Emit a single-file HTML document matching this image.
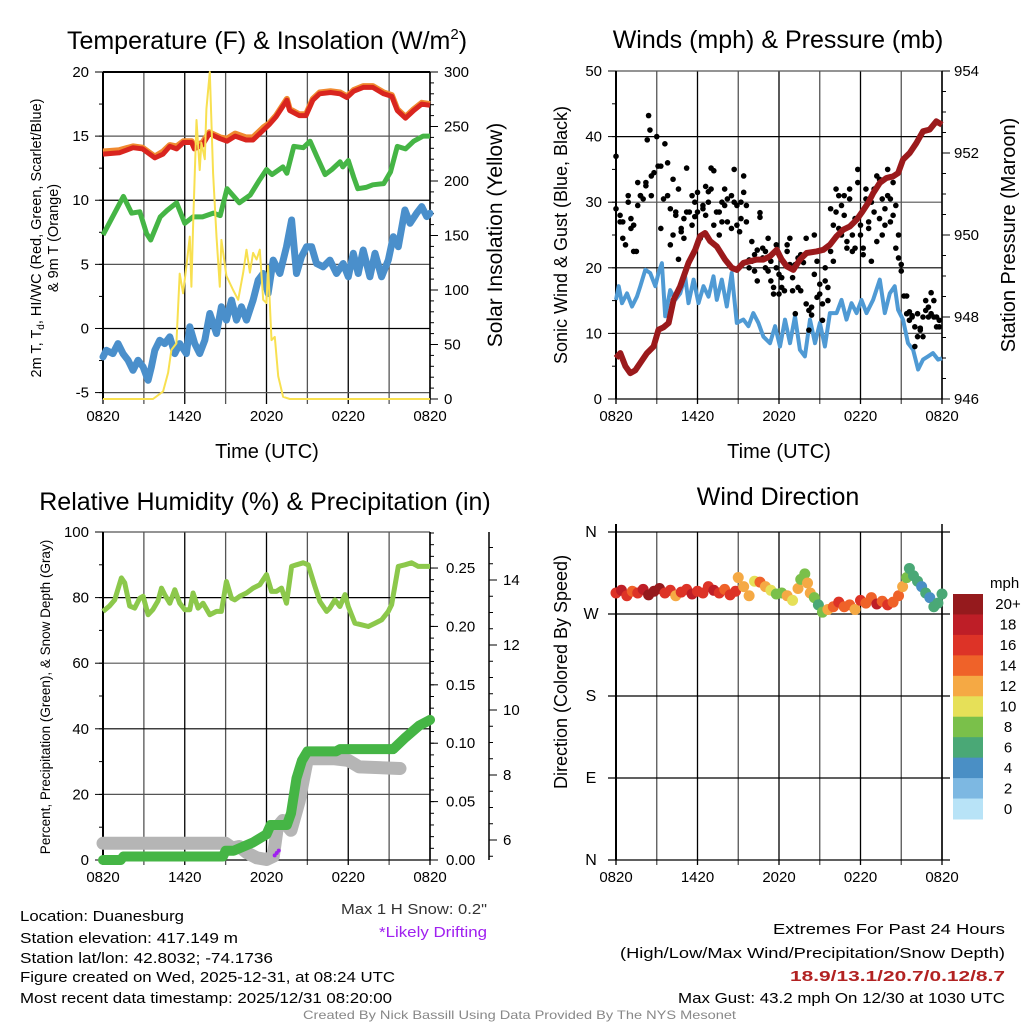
<!DOCTYPE html>
<html><head><meta charset="utf-8"><style>
body{margin:0;background:#fff}
svg{display:block;font-family:"Liberation Sans",sans-serif}
</style></head><body>
<svg id="chart" width="1024" height="1024" viewBox="0 0 1024 1024" xmlns="http://www.w3.org/2000/svg">
<rect width="1024" height="1024" fill="#fff"/>
<g id="layer"></g>
<!-- titles -->
<text x="267" y="49" font-size="25" text-anchor="middle">Temperature (F) &amp; Insolation (W/m<tspan font-size="15" dy="-10">2</tspan><tspan dy="10">)</tspan></text>
<text x="778" y="48" font-size="25" text-anchor="middle">Winds (mph) &amp; Pressure (mb)</text>
<text x="265" y="510" font-size="25" text-anchor="middle">Relative Humidity (%) &amp; Precipitation (in)</text>
<text x="778" y="505" font-size="25" text-anchor="middle">Wind Direction</text>
<!-- axis titles -->
<text x="267" y="458" font-size="20" text-anchor="middle">Time (UTC)</text>
<text x="779" y="458" font-size="20" text-anchor="middle">Time (UTC)</text>
<text transform="translate(41,238) rotate(-90)" font-size="14.5" text-anchor="middle">2m T, T<tspan font-size="10" dy="3">d</tspan><tspan dy="-3">, HI/WC (Red, Green, Scarlet/Blue)</tspan></text>
<text transform="translate(58,238) rotate(-90)" font-size="14.5" text-anchor="middle">&amp; 9m T (Orange)</text>
<text transform="translate(502,235) rotate(-90)" font-size="21" text-anchor="middle">Solar Insolation (Yellow)</text>
<text transform="translate(567,235) rotate(-90)" font-size="18" text-anchor="middle">Sonic Wind &amp; Gust (Blue, Black)</text>
<text transform="translate(1015,235) rotate(-90)" font-size="20" text-anchor="middle">Station Pressure (Maroon)</text>
<text transform="translate(50,697) rotate(-90)" font-size="13.5" text-anchor="middle">Percent, Precipitation (Green), &amp; Snow Depth (Gray)</text>
<text transform="translate(567,672) rotate(-90)" font-size="18" text-anchor="middle">Direction (Colored By Speed)</text>
<!-- footer -->
<g font-size="15">
<text x="20" y="921" textLength="164" lengthAdjust="spacingAndGlyphs">Location: Duanesburg</text>
<text x="20" y="943" textLength="218" lengthAdjust="spacingAndGlyphs">Station elevation: 417.149 m</text>
<text x="20" y="963" textLength="253" lengthAdjust="spacingAndGlyphs">Station lat/lon: 42.8032; -74.1736</text>
<text x="20" y="982" textLength="375" lengthAdjust="spacingAndGlyphs">Figure created on Wed, 2025-12-31, at 08:24 UTC</text>
<text x="20" y="1003" textLength="372" lengthAdjust="spacingAndGlyphs">Most recent data timestamp: 2025/12/31 08:20:00</text>
<text x="341" y="914" fill="#333" textLength="146" lengthAdjust="spacingAndGlyphs">Max 1 H Snow: 0.2"</text>
<text x="379" y="937" fill="#a020f0" textLength="108" lengthAdjust="spacingAndGlyphs">*Likely Drifting</text>
<text x="773" y="934" textLength="232" lengthAdjust="spacingAndGlyphs">Extremes For Past 24 Hours</text>
<text x="620" y="958" textLength="385" lengthAdjust="spacingAndGlyphs">(High/Low/Max Wind/Precipitation/Snow Depth)</text>
<text x="790" y="981" fill="#b22222" font-weight="bold" textLength="215" lengthAdjust="spacingAndGlyphs">18.9/13.1/20.7/0.12/8.7</text>
<text x="678" y="1003" textLength="327" lengthAdjust="spacingAndGlyphs">Max Gust: 43.2 mph On 12/30 at 1030 UTC</text>
<text x="303" y="1019" font-size="12" fill="#888" textLength="433" lengthAdjust="spacingAndGlyphs">Created By Nick Bassill Using Data Provided By The NYS Mesonet</text>
</g>
</svg>
<script>
// ===== data =====
const xTickLabels = ["0820","1420","2020","0220","0820"];
const redT = [0,1.2,2.2,2.9,3.8,4.4,4.9,5.4,5.9,6.5,6.7,7.3,7.8,8.6,9.1,9.7,10.5,11.0,11.8,12.2,12.7,13.5,13.7,14.4,14.9,15.4,15.9,16.7,17.4,17.9,18.4,19.1,19.8,20.6,21.2,21.6,22.2,22.8,23.4,24];
const redV = [13.6,13.7,14.1,14.0,13.3,13.6,14.2,14.0,14.5,14.5,14.0,14.3,15.2,14.8,14.6,15.0,14.7,14.7,15.5,15.9,16.5,17.8,17.0,16.6,16.6,17.8,18.3,18.4,18.3,18.0,18.5,18.8,18.8,18.3,18.1,17.0,16.4,17.0,17.5,17.4];
const orangeV = [13.8,13.9,14.2,14.1,13.4,13.8,14.3,14.2,14.6,14.6,14.2,14.5,15.3,14.9,14.8,15.2,14.9,14.9,15.7,16.0,16.6,17.9,17.1,16.7,16.7,17.9,18.4,18.5,18.4,18.1,18.6,18.9,18.9,18.4,18.2,17.1,16.5,17.1,17.6,17.5];
const greenT = [0,1.5,2.1,2.7,3.2,3.5,4.2,4.7,5.4,6.0,6.6,7.3,8.1,8.6,9.1,9.6,10.0,10.8,11.5,12.0,12.4,13.2,13.5,14.0,14.7,15.2,15.7,16.3,16.8,17.4,17.6,18.0,18.4,18.7,19.3,19.8,20.6,21.1,21.6,22.2,22.8,23.5,24];
const greenV = [7.3,10.3,9.0,9.1,7.4,6.9,8.7,9.2,9.8,8.2,8.7,8.7,9.0,8.8,10.9,10.3,9.8,10.4,11.6,12.4,12.0,12.6,12.1,14.2,14.1,14.6,13.4,12.0,12.4,13.0,12.6,13.1,11.8,10.9,11.0,11.2,11.3,12.2,14.2,14.0,14.6,15.0,15.0];
const blueT = [0,0.24,0.73,1.10,1.47,1.84,2.20,2.57,2.94,3.31,3.55,3.80,4.16,4.53,4.90,5.27,5.63,6.12,6.37,6.73,7.10,7.47,7.84,8.33,8.69,9.06,9.43,9.80,10.16,10.53,11.02,11.39,11.76,12.12,12.49,12.98,13.47,13.84,14.2,14.57,14.94,15.31,15.67,16.16,16.65,17.14,17.63,18.0,18.37,18.73,19.1,19.59,19.96,20.45,20.94,21.31,21.67,22.16,22.53,23.02,23.39,23.76,24];
const blueV = [-2.22,-1.70,-1.96,-1.18,-1.96,-2.48,-3.26,-2.48,-3.0,-4.04,-3.0,-1.70,-0.92,-1.18,-0.66,-1.96,-1.18,-1.96,0.13,-1.18,-1.96,-0.92,1.17,-0.39,1.69,0.65,2.21,0.65,1.69,0.65,2.21,3.77,4.29,2.73,5.33,4.29,6.38,8.46,4.29,5.6,6.38,6.38,5.07,4.81,5.33,4.29,5.07,4.03,5.86,4.29,6.12,4.03,5.86,4.03,5.33,7.16,6.38,9.24,8.2,8.98,9.5,8.72,8.98];
const solarT = [0,3.67,4.41,4.78,5.02,5.39,5.63,5.88,6.12,6.37,6.49,6.61,6.86,7.10,7.22,7.47,7.59,7.84,8.08,8.33,8.57,8.69,9.06,9.55,9.92,10.29,10.53,10.78,11.02,11.27,11.51,11.76,12.0,12.12,12.37,12.61,12.86,13.22,13.71,24];
const solarV = [0,0,7,24,45,51,115,97,122,149,103,159,256,210,235,220,266,300,207,149,103,146,113,100,91,116,137,116,134,128,137,91,88,122,54,57,21,2,0,0];

const windT = [0,0.2,0.44,0.81,1.18,1.54,1.79,2.16,2.52,2.89,3.13,3.38,3.62,3.99,4.36,4.73,5.09,5.34,5.71,6.07,6.44,6.81,7.18,7.42,7.79,8.16,8.52,8.89,9.38,9.75,10.11,10.48,10.85,11.34,11.71,12.07,12.44,12.81,13.18,13.54,13.91,14.28,14.65,15.01,15.38,15.75,16.24,16.6,16.97,17.34,17.71,18.07,18.44,18.93,19.42,19.79,20.16,20.52,20.77,21.13,21.5,21.87,22.24,22.6,22.97,23.34,23.71,24];
const windV = [15.1,17.2,14.6,16.1,14.1,15.6,17.2,19.7,19.2,17.2,19.2,20.7,12.6,16.6,15.1,16.1,18.7,14.6,18.2,14.6,17.2,15.6,18.7,15.1,18.2,14.1,19.2,11.6,12.1,11.1,13.1,11.6,9.5,8.5,11.1,8.0,12.1,8.5,12.6,7.5,6.5,12.1,8.5,11.6,8.0,13.1,13.1,15.1,12.1,14.6,13.1,15.1,13.1,15.1,18.2,13.1,16.1,17.2,13.6,12.1,8.5,7.5,4.5,6.0,6.5,7.0,6.0,6.2];
const presT = [0,0.32,0.69,1.05,1.42,1.79,2.28,2.77,3.13,3.50,3.87,4.24,4.73,5.34,5.83,6.19,6.56,6.93,7.42,8.03,8.52,8.89,9.38,9.87,10.36,10.85,11.34,11.83,12.20,12.56,13.05,13.54,14.03,14.77,15.26,15.75,16.24,16.73,17.22,17.71,18.07,18.56,18.93,19.42,19.91,20.40,20.77,21.13,21.62,22.11,22.60,23.09,23.58,24];
const presV = [947.0,947.12,946.8,946.63,946.7,946.88,947.12,947.28,947.69,947.75,947.85,948.42,948.75,949.32,949.64,949.97,950.05,949.85,949.72,949.4,949.2,949.15,949.32,949.36,949.4,949.4,949.48,949.64,949.4,949.24,949.15,949.4,949.56,949.6,949.64,949.76,949.97,950.13,950.21,950.37,950.54,950.78,951.02,951.27,951.39,951.43,951.51,951.84,952.0,952.24,952.53,952.57,952.77,952.69];
const gustT = [0,0,0.3,0.3,0.5,0.5,0.7,0.9,0.9,1.1,1.1,1.3,1.3,1.5,1.6,1.6,1.8,1.8,2.0,2.2,2.2,2.3,2.4,2.5,2.6,2.6,2.8,3.0,3.1,3.3,3.3,3.5,3.6,3.8,3.8,4.0,4.0,4.2,4.2,4.4,4.4,4.6,4.6,4.8,4.8,5.0,5.0,5.2,5.2,5.4,5.6,5.6,5.8,5.8,6.0,6.0,6.2,6.4,6.4,6.6,6.6,6.8,6.8,7.0,7.0,7.2,7.2,7.4,7.6,7.6,7.8,7.8,8.0,8.0,8.2,8.2,8.5,8.5,8.7,8.7,8.9,8.9,9.1,9.2,9.2,9.4,9.4,9.6,9.6,9.8,9.8,10.0,10.0,10.2,10.2,10.4,10.4,10.6,10.6,10.8,10.8,11.0,11.0,11.2,11.2,11.4,11.4,11.6,11.6,11.8,11.8,12.0,12.0,12.2,12.2,12.4,12.6,12.6,12.8,12.8,13.0,13.0,13.2,13.2,13.4,13.4,13.6,13.6,13.8,14.0,14.0,14.2,14.2,14.4,14.4,14.6,14.6,14.8,14.8,15.0,15.0,15.2,15.2,15.4,15.4,15.6,15.6,15.8,15.8,16.0,16.0,16.2,16.2,16.4,16.4,16.6,16.6,16.8,16.8,17.0,17.0,17.2,17.2,17.4,17.4,17.6,17.6,17.8,17.8,18.0,18.0,18.2,18.2,18.4,18.4,18.6,18.6,18.8,18.8,19.0,19.0,19.2,19.2,19.4,19.4,19.6,19.6,19.8,19.8,20.0,20.0,20.2,20.2,20.4,20.4,20.6,20.6,20.8,20.8,21.0,21.0,21.2,21.4,21.4,21.6,21.6,21.8,21.8,22.0,22.0,22.2,22.2,22.4,22.4,22.6,22.6,22.8,22.8,23.0,23.0,23.2,23.2,23.4,23.4,23.6,23.6,23.8,23.8];
const gustV = [29,37,27,28,24.5,27,23.5,31,30,26,27.5,22.5,26.5,22.5,33,29.5,31,31,30.5,32.5,33,39.5,43.2,41,34,31,34.5,40,35.5,26,35.5,30.5,38.9,36,31,23.5,29,33.5,25,28.5,28,21.3,32,25.5,26,24.5,27.5,35.2,28.5,28.5,31,26.5,30,27.8,28.5,31.5,24.5,29,29.5,28,32.4,31.6,30,35.2,32,34.8,26.5,28.5,28.5,25,30,27,32,29.5,27,30.5,26,31,35,30,26.5,29.5,25.5,27.5,30,34,31.5,29.5,27,21.2,20,24,21,22,19.5,22.7,18,27.7,28.4,21.5,23,20,22.5,24.5,19.5,21,18,16,17,23.5,20,16,19,17,18.5,16.5,23.5,22.5,24.5,20.5,18.5,16.5,13,20.5,17,21.5,16.5,22,20.8,14.5,24.5,10.5,13.5,12.8,14,25,19,21,15.5,17.5,16,12,14.5,20,18,15,17,22.5,29,26.5,21,32,28.5,26,31,25,29.5,31,28,24,23,30.5,32,22.5,25,27.5,23,35,33,26.5,25,23,22,30.5,32,27,26,30,21,32,28.5,34,24,27.5,33.5,30.5,25,26.5,29,35,31,27,30.5,33,28,23,29.5,25,21.5,20.5,19.5,15.7,15.7,13,12,13.3,12.5,12.7,8,11,9.5,13,10.8,10.5,9.5,12.5,13.5,15,12.5,14,16.2,13,12.5,15,11,12.5,12,11];

const rhT = [0,0.49,0.86,1.35,1.59,1.96,2.33,2.69,2.94,3.31,3.67,4.04,4.29,4.53,4.90,5.27,5.63,6.00,6.37,6.61,6.98,7.35,7.84,8.33,8.69,9.06,9.43,9.67,10.04,10.53,11.02,11.51,12.0,12.37,12.73,13.10,13.47,13.84,14.2,14.69,15.06,15.55,15.92,16.41,16.65,17.02,17.39,17.76,18.0,18.49,18.98,19.47,19.96,20.45,20.94,21.18,21.67,22.16,22.65,23.14,23.63,24];
const rhV = [75.8,77.5,79.3,86.0,84.5,77.4,76.8,79.8,80.4,74.8,76.4,79.0,82.9,80.9,78.3,82.4,78.3,76.3,76.3,81.4,76.8,78.3,74.8,75.8,75.8,84.9,79.8,79.3,80.4,81.4,82.9,83.9,87.0,81.9,81.9,82.9,78.3,89.5,90.0,90.6,90.0,83.4,78.8,75.8,76.8,79.3,77.3,80.9,77.3,72.2,71.7,71.2,72.2,73.2,75.8,77.8,89.5,90.0,90.6,89.5,89.5,89.5];
const precipT = [0,1.3,1.5,8.8,9.0,9.6,11.0,12.0,12.3,13.5,13.8,14.2,14.6,15.0,17.1,17.4,21.3,22.2,23.2,24];
const precipV = [0,0,0.003,0.003,0.008,0.008,0.015,0.022,0.03,0.03,0.04,0.07,0.085,0.093,0.093,0.095,0.095,0.105,0.115,0.12];
const snowT = [0,9.0,9.5,10.0,10.6,11.3,12.0,12.5,12.8,13.2,13.8,14.4,15.0,17.0,18.0,18.8,21.8];
const snowV = [5.9,5.9,5.75,5.8,5.6,5.45,5.4,5.5,6.4,6.6,6.3,7.2,8.5,8.5,8.45,8.25,8.2];
const driftT = [12.6,12.75,12.9];
const driftV = [0.004,0.006,0.008];

const dirT = [0,0.4,0.8,1.2,1.6,2.0,2.4,2.8,3.2,3.6,4.0,4.4,4.8,5.2,5.6,6.0,6.4,6.8,7.2,7.6,8.0,8.4,8.8,9.0,9.4,9.8,10.2,10.6,11.0,11.4,11.8,12.2,12.6,13.0,13.4,13.6,13.9,14.1,14.3,14.6,14.9,15.2,15.6,16.0,16.4,16.8,17.2,17.6,18.0,18.4,18.8,19.2,19.6,20.0,20.4,20.8,21.1,21.4,21.6,21.9,22.2,22.5,22.8,23.1,23.4,23.7,24];
const dirV = [293,296,290,295,293,297,291,295,298,293,296,290,294,297,292,295,293,300,296,293,297,291,295,310,300,290,306,305,300,296,292,293,290,285,298,308,314,304,293,288,280,272,275,278,283,278,280,275,285,282,288,281,284,280,283,290,300,310,320,312,306,300,293,288,278,282,292];
const dirS = [16,18,16,14,17,19,20,21,20,16,17,12,17,16,18,17,16,16,18,17,15,17,16,12,13,12,11,14,12,10,8,9,12,11,13,8,8,12,12,8,7,8,12,14,17,14,15,12,17,15,15,18,15,16,14,15,12,8,7,6,6,5,6,4,6,6,7];
const cbLabels = ["20+","18","16","14","12","10","8","6","4","2","0"];
const cbColors = ["#951a1d","#be1e27","#dd3327","#ef6229","#f5a944","#e6e058","#7ac04a","#4aa876","#4a8fc5","#7db8e2","#b8e3f7"];

// ===== helpers =====
const NS="http://www.w3.org/2000/svg";
const root=document.getElementById('layer');
function mk(tag,attrs,parent){const e=document.createElementNS(NS,tag);for(const k in attrs)e.setAttribute(k,attrs[k]);(parent||root).appendChild(e);return e;}
function lin(d0,d1,r0,r1){return v=>r0+(v-d0)*(r1-r0)/(d1-d0);}
function pathD(T,V,sx,sy){return T.map((t,i)=>(i?'L':'M')+sx(t).toFixed(1)+','+sy(V[i]).toFixed(1)).join('');}

function frame(x0,x1,y0,y1,name){
  const g=mk('g',{});
  
  
  for(let h=0;h<=24;h+=3){const x=lin(0,24,x0,x1)(h);
    const l=mk('line',{x1:x,x2:x,y1:y0,y2:y1+5,stroke:(h%6==0)?'#000':'#555','stroke-width':1.3},g);
    
    }
  for(let i=0;i<xTickLabels.length;i++){const x=lin(0,24,x0,x1)(i*6);
    const t=mk('text',{x:x,y:y1+22,'font-size':15,'text-anchor':'middle'},g);t.textContent=xTickLabels[i];
    
    }
  return g;
}
function hgrid(g,x0,x1,y,dark){const l=mk('line',{x1:x0,x2:x1,y1:y,y2:y,stroke:dark?'#000':'#555','stroke-width':1.2},g);
  
  }
function tick(g,x,y,len,dir){const l=mk('line',{x1:x,x2:x+len*dir,y1:y,y2:y,stroke:'#000','stroke-width':1},g);
  
  }
function label(g,x,y,txt,anchor,size){const t=mk('text',{x:x,y:y+5,'font-size':size||15,'text-anchor':anchor},g);t.textContent=txt;
  
  }

// ===== Panel 1 =====
(function(){
const x0=103,x1=430,y0=72,y1=399;
const sx=lin(0,24,x0,x1), sy=lin(-5.5,20,y1,y0), ss=lin(0,300,y1,y0);
const g=frame(x0,x1,y0,y1,'temperature-panel');
for(let v=-5;v<=20;v+=5){hgrid(g,x0,x1,sy(v),v%10==0);tick(g,x0,sy(v),-8,1);label(g,x0-14,sy(v),String(v),'end');}
for(let v=-5;v<=20;v+=2.5)tick(g,x0,sy(v),-4,1);
for(let v=0;v<=300;v+=50){tick(g,x1,ss(v),8,1);label(g,x1+14,ss(v),String(v),'start');}
for(let v=0;v<=300;v+=10)tick(g,x1,ss(v),4,1);
mk('line',{x1:x0,x2:x0,y1:y0,y2:y1,stroke:'#000','stroke-width':2},g);
mk('line',{x1:x1,x2:x1,y1:y0,y2:y1,stroke:'#000','stroke-width':1.5},g);
mk('line',{x1:x0,x2:x1,y1:y0,y2:y0,stroke:'#000','stroke-width':2},g);
const s1=mk('path',{d:pathD(blueT,blueV,sx,sy),fill:'none',stroke:'#4a8fcb','stroke-width':7,'stroke-linejoin':'round','stroke-linecap':'round'});


const s2=mk('path',{d:pathD(greenT,greenV,sx,sy),fill:'none',stroke:'#45b545','stroke-width':5,'stroke-linejoin':'round'});


const s3=mk('path',{d:pathD(redT,orangeV,sx,sy),fill:'none',stroke:'#f08a30','stroke-width':6,'stroke-linejoin':'round'});


const s4=mk('path',{d:pathD(redT,redV,sx,sy),fill:'none',stroke:'#d9251f','stroke-width':5,'stroke-linejoin':'round'});


const s5=mk('path',{d:pathD(solarT,solarV,sx,ss),fill:'none',stroke:'#f8e050','stroke-width':2,'stroke-linejoin':'round'});


})();

// ===== Panel 2 =====
(function(){
const x0=616,x1=942,y0=71,y1=399;
const sx=lin(0,24,x0,x1), sy=lin(0,50,y1,y0), sp=lin(946,954,y1,y0);
const g=frame(x0,x1,y0,y1,'winds-panel');
for(let v=0;v<=50;v+=10){hgrid(g,x0,x1,sy(v),v%20==0);tick(g,x0,sy(v),-8,1);label(g,x0-14,sy(v),String(v),'end');}
for(let v=0;v<=50;v+=5)tick(g,x0,sy(v),-4,1);
for(let v=946;v<=954;v+=2){tick(g,x1,sp(v),8,1);label(g,x1+12,sp(v),String(v),'start');}
for(let v=946;v<=954;v+=0.5)tick(g,x1,sp(v),4,1);
mk('line',{x1:x0,x2:x0,y1:y0,y2:y1,stroke:'#000','stroke-width':2},g);
mk('line',{x1:x1,x2:x1,y1:y0,y2:y1,stroke:'#000','stroke-width':1.5},g);
const w=mk('path',{d:pathD(windT,windV,sx,sy),fill:'none',stroke:'#4f9ad4','stroke-width':4,'stroke-linejoin':'round'});


const gg=mk('g',{});


for(let i=0;i<gustT.length;i++){const c=mk('circle',{cx:sx(gustT[i]),cy:sy(gustV[i]),r:2.8,fill:'#000'},gg);
  
  }
const p=mk('path',{d:pathD(presT,presV,sx,sp),fill:'none',stroke:'#9b1a1c','stroke-width':6,'stroke-linejoin':'round'});


})();

// ===== Panel 3 =====
(function(){
const x0=103,x1=430,y0=532,y1=860;
const sx=lin(0,24,x0,x1), sy=lin(0,100,y1,y0), sq=lin(0,0.28,y1,y0+1), sn=lin(6,8,840,775);
const g=frame(x0,x1,y0,y1,'humidity-panel');
for(let v=0;v<=100;v+=20){hgrid(g,x0,x1,sy(v),v%40==0);tick(g,x0,sy(v),-8,1);label(g,x0-14,sy(v),String(v),'end');}
for(let v=0;v<=100;v+=10)tick(g,x0,sy(v),-4,1);
for(let k=0;k<=5;k++){const v=k*0.05;tick(g,x1,sq(v),8,1);label(g,x1+16,sq(v),v.toFixed(2),'start');}
for(let k=0;k<=28;k++)tick(g,x1,sq(k*0.01),4,1);
mk('line',{x1:489,x2:489,y1:y0,y2:y1,stroke:'#000','stroke-width':1.5},g);
for(let v=6;v<=14;v+=2){tick(g,489,sn(v),8,1);label(g,503,sn(v),String(v),'start');}
for(let v=5.5;v<=15.3;v+=0.5)tick(g,489,sn(v),4,1);
mk('line',{x1:x0,x2:x0,y1:y0,y2:y1,stroke:'#000','stroke-width':2},g);
mk('line',{x1:x1,x2:x1,y1:y0,y2:y1,stroke:'#000','stroke-width':1.5},g);
const sd=mk('path',{d:pathD(snowT,snowV,sx,sn),fill:'none',stroke:'#b5b5b5','stroke-width':13,'stroke-linejoin':'round','stroke-linecap':'round'});


const pr=mk('path',{d:pathD(precipT,precipV,sx,sq),fill:'none',stroke:'#45b545','stroke-width':10,'stroke-linejoin':'round','stroke-linecap':'round'});


for(let i=0;i<driftT.length;i++){const c=mk('circle',{cx:sx(driftT[i]),cy:sq(driftV[i]),r:2,fill:'#a020f0'});
  
  }
const rh=mk('path',{d:pathD(rhT,rhV,sx,sy),fill:'none',stroke:'#8cc84b','stroke-width':5,'stroke-linejoin':'round'});


})();

// ===== Panel 4 =====
(function(){
const x0=616,x1=942,y0=532,y1=860;
const sx=lin(0,24,x0,x1), sy=lin(0,360,y1,y0);
const g=frame(x0,x1,y0,y1,'direction-panel');
const dl=["N","E","S","W","N"];
for(let k=0;k<=4;k++){const y=sy(k*90);hgrid(g,x0-8,x1+8,y,true);label(g,x0-25,y,dl[k],'middle',16);}
mk('line',{x1:x0,x2:x0,y1:y0-8,y2:y1,stroke:'#000','stroke-width':2},g);
mk('line',{x1:x1,x2:x1,y1:y0-8,y2:y1,stroke:'#000','stroke-width':1.5},g);
const dg=mk('g',{});


for(let i=0;i<dirT.length;i++){const idx=Math.max(0,Math.min(10,10-Math.floor(dirS[i]/2)));
  const c=mk('circle',{cx:sx(dirT[i]),cy:sy(dirV[i]),r:5.5,fill:cbColors[idx]},dg);
  
  }
const cb=mk('g',{});


const ut=mk('text',{x:990,y:588,'font-size':15,'text-anchor':'start'},cb);ut.textContent='mph';


const bh=(819-594)/cbColors.length;
for(let i=0;i<cbColors.length;i++){const r=mk('rect',{x:953,y:594+i*bh,width:30,height:bh+0.5,fill:cbColors[i]},cb);
  
  
  const t=mk('text',{x:1008,y:594+i*bh+bh/2+5,'font-size':15,'text-anchor':'middle'},cb);t.textContent=cbLabels[i];
  
  }
})();
</script>
</body></html>
